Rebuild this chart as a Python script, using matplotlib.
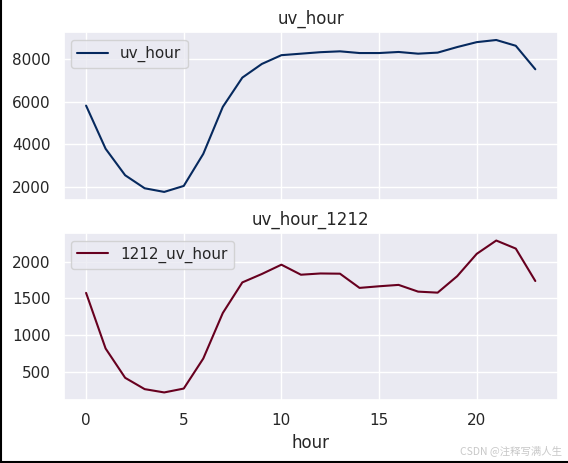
import matplotlib
matplotlib.use('Agg')
import matplotlib.pyplot as plt
import seaborn as sns
from matplotlib.lines import Line2D

sns.set_theme(style='darkgrid')
plt.rcParams['font.family'] = ['DejaVu Sans', 'Noto Sans CJK SC']

hour = list(range(24))
uv_hour = [5820, 3800, 2560, 1950, 1780, 2060, 3560, 5760, 7130, 7770, 8180,
           8250, 8320, 8360, 8280, 8280, 8330, 8250, 8300, 8560, 8790, 8890,
           8620, 7520]
uv_hour_1212 = [1575, 815, 415, 260, 215, 268, 678, 1300, 1718, 1833, 1960,
                1823, 1840, 1837, 1643, 1665, 1684, 1592, 1578, 1803, 2108,
                2290, 2180, 1737]

fig, axes = plt.subplots(2, 1, sharex=True, figsize=(5.68, 4.63), dpi=100)
fig.subplots_adjust(left=0.112, right=0.982, top=0.93, bottom=0.136, hspace=0.2)

axes[0].plot(hour, uv_hour, color='#06295e', label='uv_hour')
axes[0].set_title('uv_hour')
axes[0].legend(loc='upper left')

axes[1].plot(hour, uv_hour_1212, color='#67001f', label='1212_uv_hour')
axes[1].set_title('uv_hour_1212')
axes[1].legend(loc='upper left')
axes[1].set_xlabel('hour')

fig.text(0.989, 0.015, 'CSDN @注释写满人生', ha='right', va='bottom',
         fontsize=7.5, color='#c8c8c8',
         family=['Noto Sans CJK SC', 'DejaVu Sans'])

# border from screenshot
fig.add_artist(Line2D([0.001, 0.001], [0, 1], color='black', lw=1.5,
                      transform=fig.transFigure))
fig.add_artist(Line2D([0, 1], [0.002, 0.002], color='black', lw=1.5,
                      transform=fig.transFigure))

plt.savefig('out.png', dpi=100)
